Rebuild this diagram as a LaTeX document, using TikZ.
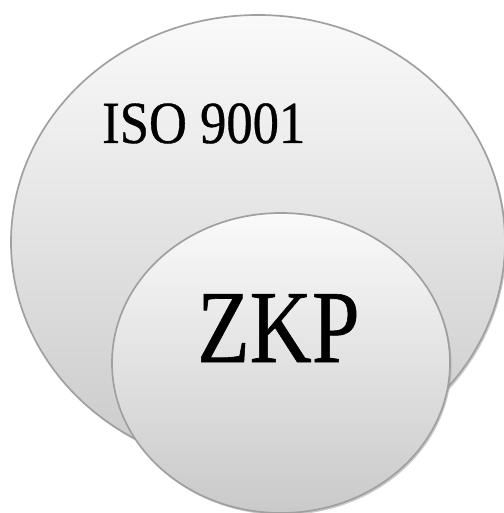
\documentclass[tikz,border=0pt]{standalone}
\usepackage{fontspec}
\setmainfont{Liberation Serif}
\newfontfamily\labelfont[FakeBold=0.6]{Liberation Serif}
\usetikzlibrary{shapes.geometric}
\definecolor{rimgray}{HTML}{A0A0A0}
\definecolor{shadegray}{HTML}{8C8C8C}
\begin{document}
\begin{tikzpicture}[x=1bp,y=-1bp,
  bubble/.style={ellipse, draw=rimgray, line width=1.7bp, inner sep=0pt,
    top color=white!98!black, bottom color=black!21},
  shade/.style={ellipse, fill=shadegray, opacity=0.45, inner sep=0pt, draw=none},
  label/.style={anchor=base west, inner sep=0pt, text=black}]
\useasboundingbox (0,0) rectangle (504,513);
% outer set with a soft shadow
\node[shade, minimum width=494bp, minimum height=454bp] (isoShadow) at (259.5,244) {};
\node[bubble, minimum width=494bp, minimum height=454bp] (iso) at (258,242) {};
% inner set with a soft shadow
\node[shade, minimum width=338bp, minimum height=300bp] (zkpShadow) at (282.5,365) {};
\node[bubble, minimum width=338bp, minimum height=300bp] (zkp) at (281,363) {};
% labels
\node[label] (isoText) at (102,143) {\labelfont\fontsize{60}{60}\selectfont\scalebox{0.88}[1]{ISO 9001}};
\node[label] (zkpText) at (197,362) {\labelfont\fontsize{104}{104}\selectfont\scalebox{0.83}[1]{ZKP}};
\end{tikzpicture}
\end{document}
